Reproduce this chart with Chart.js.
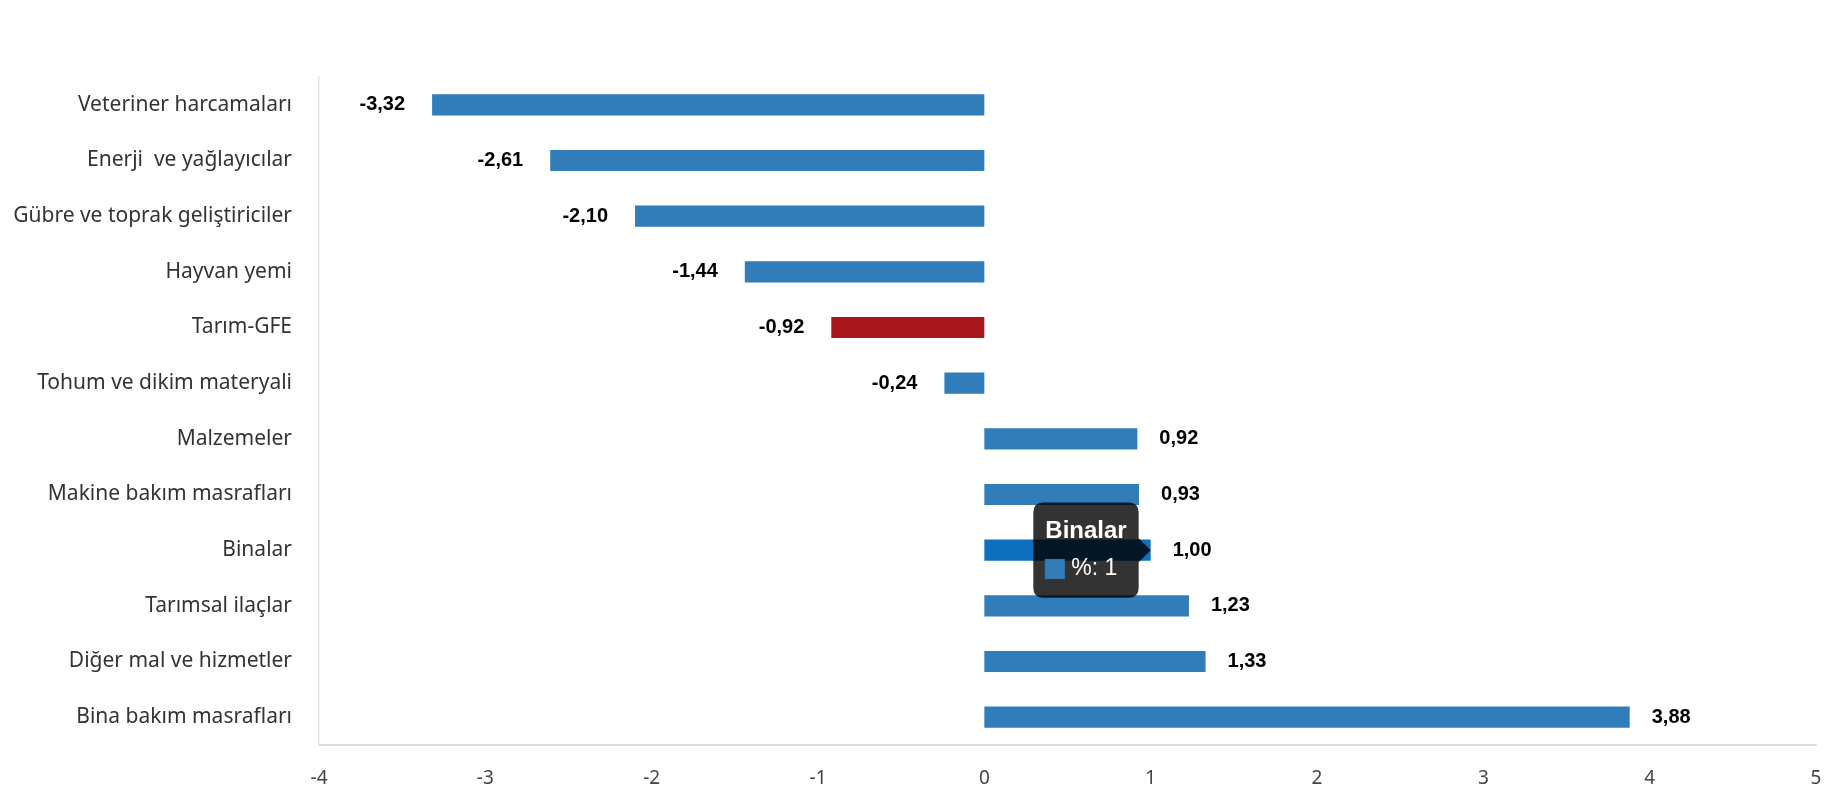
<!DOCTYPE html>
<html lang="tr">
<head>
<meta charset="utf-8">
<title>Tarım girdi fiyatları</title>
<script src="https://cdn.jsdelivr.net/npm/chart.js@4.4.1/dist/chart.umd.min.js"></script>
<style>
	html, body { margin: 0; padding: 0; background: #fff; }
	#kutu { width: 1830px; height: 800px; position: relative; }
</style>
</head>
<body>
<div id="kutu"><canvas id="grafik"></canvas></div>
<script>
// veriler
const kategoriler = [
	"Veteriner harcamaları",
	"Enerji  ve yağlayıcılar",
	"Gübre ve toprak geliştiriciler",
	"Hayvan yemi",
	"Tarım-GFE",
	"Tohum ve dikim materyali",
	"Malzemeler",
	"Makine bakım masrafları",
	"Binalar",
	"Tarımsal ilaçlar",
	"Diğer mal ve hizmetler",
	"Bina bakım masrafları"
];
const degerler = [-3.32, -2.61, -2.10, -1.44, -0.92, -0.24, 0.92, 0.93, 1.00, 1.23, 1.33, 3.88];
const xTikler = [-4, -3, -2, -1, 0, 1, 2, 3, 4, 5];
const seciliIndex = 8; // tooltip acik olan bar

const MAVI = "#317dba";
const KIRMIZI = "#a8161b";

// bar ucuna deger yazan kucuk eklenti
const degerEtiketleri = {
	id: "degerEtiketleri",
	afterDatasetsDraw(chart) {
		const ctx = chart.ctx;
		const meta = chart.getDatasetMeta(0);
		ctx.save();
		ctx.font = "bold 20px 'Liberation Sans', Arial, sans-serif";
		ctx.fillStyle = "#000";
		ctx.textBaseline = "middle";
		meta.data.forEach((bar, i) => {
			const v = degerler[i];
			const yazi = v.toFixed(2).replace(".", ",");
			if (v < 0) {
				ctx.textAlign = "right";
				ctx.fillText(yazi, bar.x - 27, bar.y);
			} else {
				ctx.textAlign = "left";
				ctx.fillText(yazi, bar.x + 22, bar.y);
			}
		});
		ctx.restore();
	}
};

const grafik = new Chart(document.getElementById("grafik").getContext("2d"), {
	type: "bar",
	data: {
		labels: kategoriler,
		datasets: [{
			label: "%",
			data: degerler,
			backgroundColor: kategoriler.map(k => k === "Tarım-GFE" ? KIRMIZI : MAVI),
			hoverBackgroundColor: kategoriler.map(k => k === "Tarım-GFE" ? KIRMIZI : "#0d6fbf"),
			borderWidth: 0,
			categoryPercentage: 1,
			barPercentage: 0.38
		}]
	},
	options: {
		indexAxis: "y",
		responsive: true,
		maintainAspectRatio: false,
		devicePixelRatio: 1,
		animation: false,
		locale: "tr-TR",
		layout: { padding: { top: 77, right: 14, bottom: 0, left: 0 } },
		events: [],
		plugins: {
			legend: { display: false },
			tooltip: {
				enabled: true,
				xAlign: "right",
				yAlign: "center",
				backgroundColor: "rgba(0,0,0,0.8)",
				cornerRadius: 10,
				caretSize: 12,
				caretPadding: 0,
				padding: { top: 15, bottom: 15, left: 12, right: 12 },
				titleFont: { family: "'Liberation Sans', Arial, sans-serif", size: 24, weight: "bold" },
				bodyFont: { family: "'Liberation Sans', Arial, sans-serif", size: 23 },
				titleMarginBottom: 9,
				boxWidth: 19,
				boxHeight: 19,
				boxPadding: 5,
				multiKeyBackground: MAVI,
				callbacks: {
					labelColor: () => ({ borderColor: MAVI, backgroundColor: MAVI, borderWidth: 0 })
				}
			}
		},
		scales: {
			x: {
				min: -4,
				max: 5,
				afterBuildTicks: s => { s.ticks = xTikler.map(v => ({ value: v })); },
				afterFit: s => { s.height = 55; },
				// tik cizgisi yok ama etiketleri asagi itmek icin tickLength kullaniliyor
				grid: { display: false, drawTicks: true, tickLength: 22 },
				border: { display: true, color: "#dcdcdc", width: 2 },
				ticks: {
					padding: 0,
					color: "#444",
					font: { family: "'Noto Sans', 'Open Sans', sans-serif", size: 19 },
					callback: v => String(v)
				}
			},
			y: {
				afterFit: s => { s.width = 319; },
				grid: { display: false, drawTicks: false },
				border: { display: true, color: "#e1e6ee", width: 1.5 },
				ticks: {
					padding: 27,
					color: "#333",
					font: { family: "'Noto Sans', 'Open Sans', sans-serif", size: 21 }
				}
			}
		}
	},
	plugins: [degerEtiketleri]
});

// Binalar barinin uzerinde acik tooltip
const aktif = [{ datasetIndex: 0, index: seciliIndex }];
const bar = grafik.getDatasetMeta(0).data[seciliIndex];
grafik.setActiveElements(aktif);
grafik.tooltip.setActiveElements(aktif, { x: bar.x, y: bar.y });
grafik.update();
</script>
</body>
</html>
